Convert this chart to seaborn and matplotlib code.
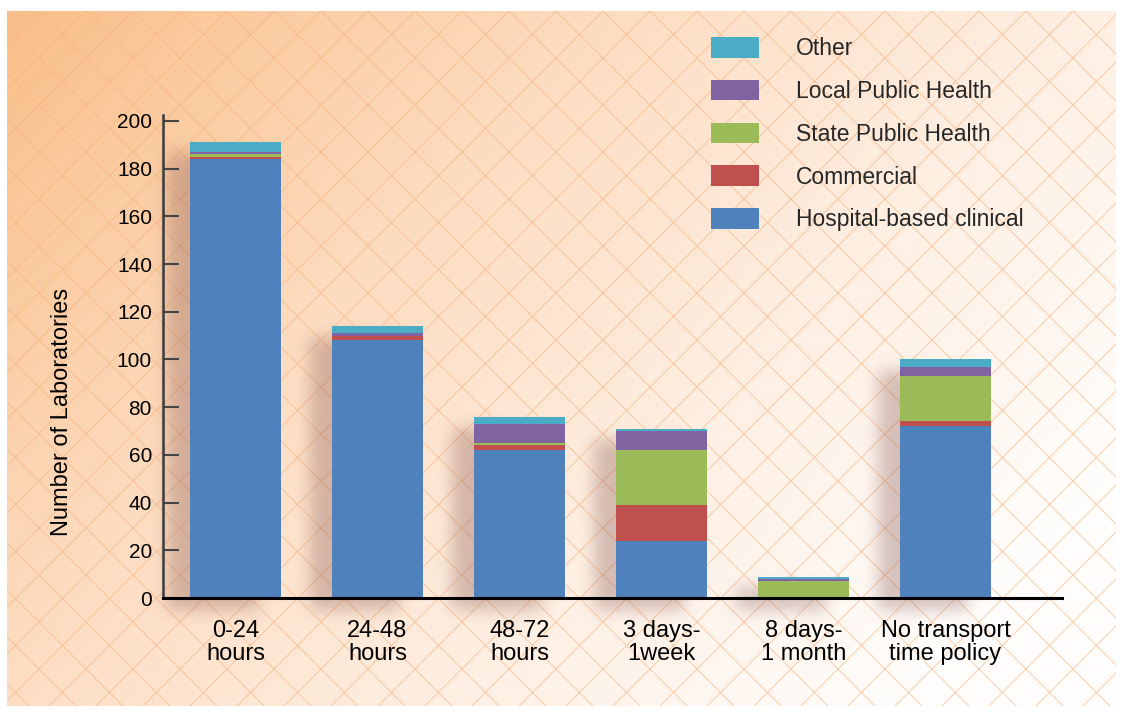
import numpy as np
import seaborn as sns
import matplotlib.pyplot as plt
from matplotlib.colors import LinearSegmentedColormap
from matplotlib.collections import LineCollection
from matplotlib.patches import Rectangle

sns.set_style("white")
plt.rcParams['font.family'] = ['Liberation Sans', 'DejaVu Sans']

# data
categories = ["0-24\nhours", "24-48\nhours", "48-72\nhours",
              "3 days-\n1week", "8 days-\n1 month", "No transport\ntime policy"]
hospital = [184, 108, 62, 24, 0, 72]
commercial = [1, 2, 2, 15, 0, 2]
state_ph = [1, 0, 1, 23, 7, 19]
local_ph = [1, 1, 8, 8, 1, 4]
other = [4, 3, 3, 1, 1, 3]

series = [
    ("Hospital-based clinical", hospital, "#4F81BD"),
    ("Commercial", commercial, "#C0504D"),
    ("State Public Health", state_ph, "#9BBB59"),
    ("Local Public Health", local_ph, "#8064A2"),
    ("Other", other, "#4BACC6"),
]

W, H = 1122, 713
fig = plt.figure(figsize=(W / 100, H / 100), dpi=100)
fig.patch.set_facecolor("white")

# background: peach gradient with a diamond lattice
bg = fig.add_axes([0, 0, 1, 1], zorder=0)
bg.set_xlim(0, W)
bg.set_ylim(H, 0)
bg.axis("off")

yy, xx = np.mgrid[0:H, 0:W]
t = np.clip(0.72 * xx / W + 0.42 * yy / H, 0, 1)
bg_cmap = LinearSegmentedColormap.from_list(
    "peach", [(0, "#F9BF89"), (0.4, "#FDDDC2"), (0.72, "#FEF0E4"), (1, "#FFFDFB")])
bg.imshow(bg_cmap(t), extent=(7, W - 6, H - 7, 11), aspect="auto", zorder=0)

clip = Rectangle((7, 11), W - 13, H - 18, transform=bg.transData, fill=False)
segs = []
for c in range(-H, W + H, 47):
    segs.append([(c, 11), (c + (H - 18), H - 7)])
    segs.append([(c, 11), (c - (H - 18), H - 7)])
lattice = LineCollection(segs, colors="#F7B07A", linewidths=0.8, alpha=0.55, zorder=1)
bg.add_collection(lattice)
lattice.set_clip_path(clip)

# main axes
ax = fig.add_axes([163 / W, 1 - 598 / H, 899 / W, 483 / H], zorder=2)
ax.patch.set_visible(False)

bottoms = np.zeros(len(categories))
for name, vals, col in series:
    sns.barplot(x=categories, y=vals, color=col, width=0.64, bottom=bottoms,
                label=name, errorbar=None, saturation=1, linewidth=0, ax=ax)
    bottoms += np.array(vals)

ax.set_xlim(-0.51, 5.82)
ax.set_ylim(0, 202.5)
ax.set_yticks(range(0, 201, 20))

# soft drop shadows behind the bars
mask = np.zeros((H, W))
for i, total in enumerate(bottoms):
    if total <= 0:
        continue
    x0, ytop = ax.transData.transform((i - 0.32, total))
    x1, ybot = ax.transData.transform((i + 0.32, 0))
    r0, r1 = int(H - ytop + 12), int(H - ybot + 12)
    c0, c1 = int(x0 - 22), int(x1 - 22)
    mask[r0:r1, c0:c1] = 1
k = np.arange(-24, 25)
kern = np.exp(-k ** 2 / (2 * 8.0 ** 2))
kern /= kern.sum()
mask = np.apply_along_axis(lambda r: np.convolve(r, kern, mode="same"), 1, mask)
mask = np.apply_along_axis(lambda r: np.convolve(r, kern, mode="same"), 0, mask)
shadow = np.zeros((H, W, 4))
shadow[..., 0], shadow[..., 1], shadow[..., 2] = 0.5, 0.3, 0.28
shadow[..., 3] = mask * 0.32
bg.imshow(shadow, extent=(0, W, H, 0), aspect="auto", zorder=2)

ax.spines["top"].set_visible(False)
ax.spines["right"].set_visible(False)
ax.spines["left"].set_color("#3a3a3a")
ax.spines["left"].set_linewidth(1.8)
ax.spines["bottom"].set_color("black")
ax.spines["bottom"].set_linewidth(2.2)

ax.tick_params(axis="y", left=True, direction="in", length=11.5, width=1.5,
               color="#444444", labelsize=15, pad=8, labelcolor="black")
ax.tick_params(axis="x", bottom=False, length=0, labelsize=17, pad=16, labelcolor="black")
for lbl in ax.get_xticklabels():
    lbl.set_linespacing(1.04)

ax.set_xlabel("")
ax.set_ylabel("Number of Laboratories", fontsize=17, color="black")
ax.yaxis.set_label_coords(-0.1, 0.385)

handles, labels = ax.get_legend_handles_labels()
ax.legend(handles[::-1], labels[::-1], loc="upper left",
          bbox_to_anchor=(711 / W, 1 - 37 / H), bbox_transform=fig.transFigure,
          frameon=False, fontsize=16.5, handlelength=2.1, handleheight=1.0,
          handletextpad=1.6, labelspacing=0.86, borderpad=0, borderaxespad=0)

fig.savefig("out.png", dpi=100)
plt.close()
